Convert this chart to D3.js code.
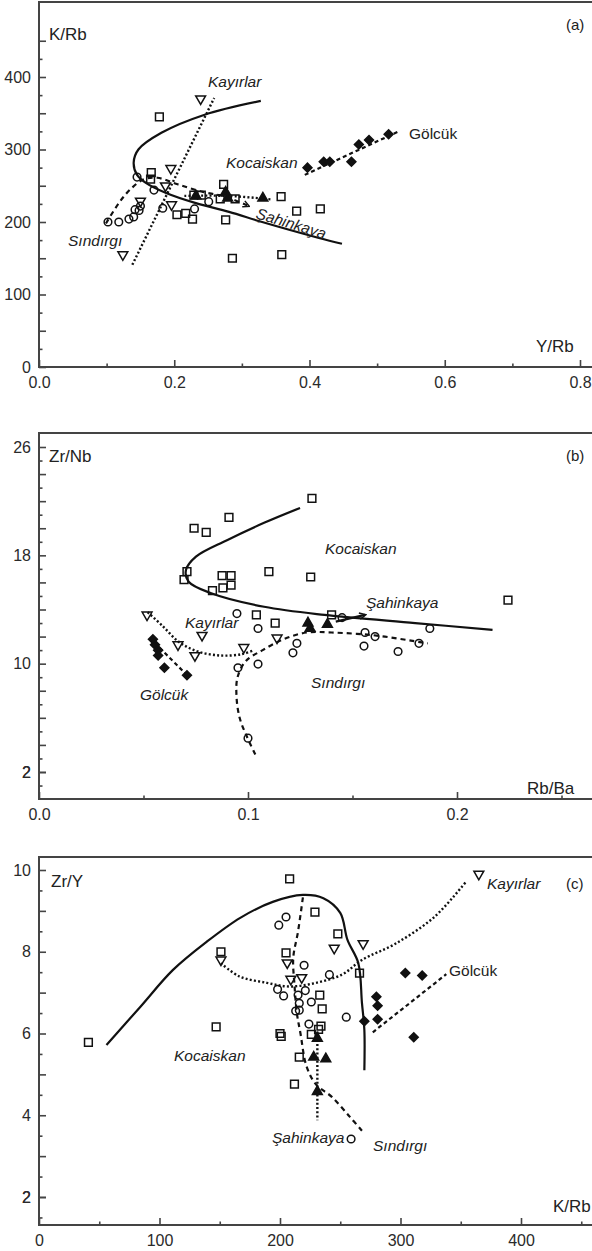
<!DOCTYPE html>
<html>
<head>
<meta charset="utf-8">
<script src="https://cdn.jsdelivr.net/npm/d3@7"></script>
<style>
  html, body { margin: 0; padding: 0; background: #fff; }
  svg { display: block; }
  text { font-family: "Liberation Sans", Arial, Helvetica, sans-serif; fill: #222; }
</style>
</head>
<body>
<svg id="fig" width="592" height="1251"></svg>
<script>
// ---------- (a) K/Rb versus Y/Rb ----------
const aKocaiskan = [[0.178,345],[0.166,268],[0.165,259],[0.273,252],[0.229,237],[0.240,237],[0.268,232],[0.290,232],[0.358,235],[0.381,215],[0.416,218],[0.204,210],[0.217,212],[0.227,204],[0.276,203],[0.286,150],[0.359,155]];
const aSindirgi  = [[0.102,200],[0.118,200],[0.133,204],[0.140,207],[0.142,217],[0.148,216],[0.150,222],[0.145,262],[0.170,244],[0.183,219],[0.230,218],[0.251,228]];
const aKayirlar  = [[0.239,370],[0.195,274],[0.187,250],[0.196,224],[0.124,155],[0.150,229]];
const aSahinkaya = [[0.232,236],[0.276,241],[0.279,233],[0.331,233]];
const aGolcuk    = [[0.397,275],[0.421,283],[0.430,283],[0.462,283],[0.473,307],[0.488,313],[0.517,321]];

const aKocaiskanTrend = [[0.328,367],[0.245,348],[0.181,323],[0.147,300],[0.140,282],[0.145,265],[0.158,254],[0.188,240],[0.232,226],[0.281,214],[0.330,200],[0.414,178],[0.448,170]];
const aKayirlarTrend  = [[0.138,141],[0.259,371]];
const aSindirgiTrend  = [[0.099,198],[0.118,226],[0.135,245],[0.155,259],[0.175,261],[0.205,252],[0.240,242],[0.275,235],[0.310,222]];
const aSahinkayaTrend = [[0.215,236],[0.280,236],[0.345,231]];
const aGolcukTrend    = [[0.393,265],[0.532,325]];

const aXLabelTicks = [0, 0.2, 0.4, 0.6, 0.8];
const aXMinorTicks = [0.1, 0.3, 0.5, 0.7];
const aYLabelTicks = [0, 100, 200, 300, 400];
const aYLongTicks  = [50, 100, 150, 200, 250, 300, 350, 400, 450];
const aYShortTicks = [25, 75, 125, 175, 225, 275, 325, 375, 425];

// ---------- (b) Zr/Nb versus Rb/Ba ----------
const bKocaiskan = [[0.1306,22.2],[0.0909,20.8],[0.0742,20.0],[0.080,19.7],[0.0708,16.8],[0.0694,16.2],[0.0876,16.5],[0.0919,16.5],[0.0919,15.8],[0.088,15.6],[0.083,15.4],[0.110,16.8],[0.130,16.4],[0.2244,14.7],[0.140,13.6],[0.104,13.6],[0.113,13.0]];
const bSindirgi  = [[0.0947,13.7],[0.1048,12.6],[0.1215,10.8],[0.1234,11.5],[0.1048,9.97],[0.0952,9.7],[0.100,4.5],[0.145,13.4],[0.156,12.3],[0.1608,12.0],[0.1555,11.3],[0.1718,10.9],[0.1818,11.5],[0.187,12.6]];
const bKayirlar  = [[0.0517,13.6],[0.078,12.1],[0.0665,11.4],[0.0746,10.6],[0.098,11.2],[0.1139,11.9]];
const bSahinkaya = [[0.1287,13.0],[0.1297,12.6],[0.138,12.9]];
const bGolcuk    = [[0.0545,11.8],[0.0555,11.4],[0.057,11.0],[0.057,10.6],[0.060,9.7],[0.0708,9.15]];

const bKocaiskanTrend = [[0.1249,21.5],[0.1077,20.4],[0.0897,19.1],[0.0751,17.9],[0.0703,16.9],[0.0716,16.05],[0.0824,15.2],[0.1077,14.2],[0.1366,13.6],[0.180,13.0],[0.217,12.5]];
const bKayirlarTrend  = [[0.052,13.8],[0.059,12.8],[0.067,11.6],[0.076,10.9],[0.087,10.6],[0.097,10.7],[0.103,11.0]];
const bSindirgiTrend  = [[0.1035,3.3],[0.0995,4.6],[0.096,6.0],[0.0945,7.6],[0.095,9.0],[0.099,10.2],[0.107,11.0],[0.117,11.8],[0.128,12.3],[0.140,12.3],[0.160,12.1],[0.178,11.7],[0.186,11.5]];
const bSahinkayaTrend = [[0.142,13.1],[0.156,13.6]];
const bGolcukTrend    = [[0.053,11.9],[0.0715,9.05]];

const bXLabelTicks = [0, 0.1, 0.2];
const bXMinorTicks = [0.05, 0.15, 0.25];
const bYLabelTicks = [2, 10, 18, 26];
const bYLongTicks  = [2, 4, 6, 8, 10, 12, 14, 16, 18, 20, 22, 24, 26];
const bYShortTicks = [1, 3, 5, 7, 9, 11, 13, 15, 17, 19, 21, 23, 25];

// ---------- (c) Zr/Y versus K/Rb ----------
const cKocaiskan = [[208,9.78],[229,8.97],[248,8.44],[151,8.0],[205,7.97],[266,7.48],[233,6.94],[235,6.6],[234,6.18],[147,6.16],[200,6.0],[201,5.93],[226,5.98],[232,6.1],[216,5.42],[212,4.76],[41,5.78]];
const cSindirgi  = [[199,8.65],[205,8.85],[220,7.67],[241,7.44],[198,7.08],[203,6.92],[215,6.94],[221,7.05],[226,6.77],[216,6.74],[216,6.57],[213,6.55],[224,6.23],[255,6.4],[259,3.42]];
const cKayirlar  = [[151,7.8],[206,7.73],[245,8.09],[269,8.2],[209,7.33],[218,7.37],[365,9.9]];
const cSahinkaya = [[231,5.88],[228,5.42],[238,5.38],[231,4.58]];
const cGolcuk    = [[304,7.48],[318,7.42],[280,6.9],[281,6.68],[281,6.35],[270,6.3],[311,5.91]];

const cKocaiskanTrend = [[56,5.72],[84,6.65],[111,7.55],[139,8.24],[167,8.83],[194,9.22],[219,9.39],[236,9.31],[250,8.95],[256,8.29],[265,7.72],[268,6.75],[270,6.09],[270,5.1]];
const cKayirlarTrend  = [[151,7.72],[166,7.4],[189,7.24],[208,7.15],[230,7.24],[252,7.45],[268,7.8],[296,8.2],[328,8.85],[354,9.7]];
const cSindirgiTrend  = [[219,9.33],[215,8.5],[211,7.85],[212,7.2],[214,6.5],[217,6.0],[222,5.2],[230,4.75],[243,4.45],[258,3.96],[268,3.62]];
const cSahinkayaTrend = [[231,6.05],[231,3.88]];
const cGolcukTrend    = [[277,6.03],[338,7.45]];

const cXLabelTicks = [0, 100, 200, 300, 400];
const cXMinorTicks = [50, 150, 250, 350, 450];
const cYLabelTicks = [2, 4, 6, 8, 10];
const cYLongTicks  = [2, 3, 4, 5, 6, 7, 8, 9, 10];
const cYShortTicks = [1.5, 2.5, 3.5, 4.5, 5.5, 6.5, 7.5, 8.5, 9.5];

// ---------- drawing ----------
const W = 592;
const svg = d3.select("#fig");
const INK = "#111";
const AXIS = "#444";

svg.append("defs").append("marker")
  .attr("id", "arrow").attr("viewBox", "0 0 10 10")
  .attr("refX", 8).attr("refY", 5)
  .attr("markerWidth", 8).attr("markerHeight", 8)
  .attr("markerUnits", "userSpaceOnUse")
  .attr("orient", "auto")
  .append("path").attr("d", "M1,1 L9,5 L1,9")
  .attr("fill", "none").attr("stroke", INK).attr("stroke-width", 1.8);

const symbols = {
  square:  { type: d3.symbolSquare,   size: 60, fill: "none", rot: 0 },
  circle:  { type: d3.symbolCircle,   size: 46, fill: "none", rot: 0 },
  triDown: { type: d3.symbolTriangle, size: 42, fill: "none", rot: 180 },
  triUp:   { type: d3.symbolTriangle, size: 42, fill: INK,    rot: 0 },
  diamond: { type: d3.symbolSquare,   size: 40, fill: INK,    rot: 45 }
};

const lineStyles = {
  solid:  { dash: null,  width: 2.2 },
  dotted: { dash: "2,2.2", width: 2.4 },
  dashed: { dash: "5,4", width: 2.2 },
  dash2:  { dash: "4,3", width: 2.2 }
};

function drawPanel(p) {
  const g = svg.append("g");
  const { x, y, left, top, bottom } = p;

  // axis frame: left axis, bottom axis, top border running off the right edge
  g.append("path")
    .attr("d", `M${W + 10},${top}H${left}V${bottom}H${W + 10}`)
    .attr("fill", "none").attr("stroke", AXIS).attr("stroke-width", 2);

  const styleAxis = sel => {
    sel.select(".domain").remove();
    sel.attr("font-size", null).attr("font-family", null).attr("color", AXIS);
    sel.selectAll("line").attr("stroke-width", 1.6);
    sel.selectAll("text").style("font-size", "16px").style("fill", "#2a2a2a");
  };

  // y ticks (pointing inwards)
  g.append("g").attr("transform", `translate(${left},0)`)
    .call(d3.axisLeft(y).tickValues(p.yLong.concat([p.yLabels[0]])).tickSize(-7).tickPadding(8)
      .tickFormat(d => p.yLabels.includes(d) ? d3.format("d")(d) : ""))
    .call(styleAxis);
  g.append("g").attr("transform", `translate(${left},0)`)
    .call(d3.axisLeft(y).tickValues(p.yShort).tickSize(-3.5).tickFormat(""))
    .call(styleAxis);

  // x ticks (pointing inwards)
  g.append("g").attr("transform", `translate(0,${bottom})`)
    .call(d3.axisBottom(x).tickValues(p.xLabels).tickSize(-7).tickPadding(10).tickFormat(p.xFmt))
    .call(styleAxis);
  g.append("g").attr("transform", `translate(0,${bottom})`)
    .call(d3.axisBottom(x).tickValues(p.xMinor).tickSize(-3.5).tickFormat(""))
    .call(styleAxis);

  // trend lines
  const line = d3.line().x(d => x(d[0])).y(d => y(d[1])).curve(d3.curveCatmullRom.alpha(0.5));
  p.trends.forEach(t => {
    const st = lineStyles[t.style];
    const path = g.append("path").attr("d", line(t.data))
      .attr("fill", "none").attr("stroke", INK)
      .attr("stroke-width", st.width).attr("stroke-linecap", "butt");
    if (st.dash) path.attr("stroke-dasharray", st.dash);
    if (t.arrow) path.attr("marker-end", "url(#arrow)");
  });

  // sample symbols
  p.series.forEach(s => {
    const sym = symbols[s.symbol];
    const gen = d3.symbol().type(sym.type).size(sym.size);
    g.append("g").selectAll("path").data(s.data).join("path")
      .attr("d", gen)
      .attr("transform", d => `translate(${x(d[0])},${y(d[1])}) rotate(${sym.rot})`)
      .attr("fill", sym.fill).attr("stroke", INK).attr("stroke-width", 1.5);
  });

  // labels
  p.labels.forEach(l => {
    const t = g.append("text").text(l.text)
      .attr("x", l.x).attr("y", l.y)
      .style("font-size", (l.size || 15.5) + "px")
      .style("font-style", l.italic ? "italic" : "normal");
    if (l.rotate) t.attr("transform", `rotate(${l.rotate},${l.x},${l.y})`);
  });
}

// panel (a)
drawPanel({
  left: 39, top: 2, bottom: 367,
  x: d3.scaleLinear().domain([0, 0.8]).range([39, 580]),
  y: d3.scaleLinear().domain([0, 400]).range([367, 77]),
  xLabels: aXLabelTicks, xMinor: aXMinorTicks, xFmt: d3.format(".1f"),
  yLabels: aYLabelTicks, yLong: aYLongTicks, yShort: aYShortTicks,
  trends: [
    { data: aKocaiskanTrend, style: "solid" },
    { data: aKayirlarTrend,  style: "dotted" },
    { data: aSindirgiTrend,  style: "dashed", arrow: true },
    { data: aSahinkayaTrend, style: "dotted" },
    { data: aGolcukTrend,    style: "dash2" }
  ],
  series: [
    { data: aKocaiskan, symbol: "square" },
    { data: aSindirgi,  symbol: "circle" },
    { data: aKayirlar,  symbol: "triDown" },
    { data: aSahinkaya, symbol: "triUp" },
    { data: aGolcuk,    symbol: "diamond" }
  ],
  labels: [
    { text: "K/Rb", x: 49, y: 40, size: 17 },
    { text: "(a)", x: 566, y: 30, size: 15 },
    { text: "Y/Rb", x: 536, y: 352, size: 17 },
    { text: "Kayırlar", x: 208, y: 87, italic: true },
    { text: "Kocaiskan", x: 226, y: 168, italic: true },
    { text: "Gölcük", x: 409, y: 139 },
    { text: "Sındırgı", x: 68, y: 246, italic: true },
    { text: "Şahinkaya", x: 255, y: 218, italic: true, rotate: 17 }
  ]
});

// panel (b)
drawPanel({
  left: 39, top: 433, bottom: 799,
  x: d3.scaleLinear().domain([0, 0.2]).range([39, 457]),
  y: d3.scaleLinear().domain([2, 26]).range([772, 447]),
  xLabels: bXLabelTicks, xMinor: bXMinorTicks, xFmt: d3.format(".1f"),
  yLabels: bYLabelTicks, yLong: bYLongTicks, yShort: bYShortTicks,
  trends: [
    { data: bKocaiskanTrend, style: "solid" },
    { data: bKayirlarTrend,  style: "dotted" },
    { data: bSindirgiTrend,  style: "dashed" },
    { data: bSahinkayaTrend, style: "solid", arrow: true },
    { data: bGolcukTrend,    style: "dash2" }
  ],
  series: [
    { data: bKocaiskan, symbol: "square" },
    { data: bSindirgi,  symbol: "circle" },
    { data: bKayirlar,  symbol: "triDown" },
    { data: bSahinkaya, symbol: "triUp" },
    { data: bGolcuk,    symbol: "diamond" }
  ],
  labels: [
    { text: "Zr/Nb", x: 49, y: 462, size: 17 },
    { text: "(b)", x: 566, y: 461, size: 15 },
    { text: "Rb/Ba", x: 527, y: 794, size: 17 },
    { text: "Kocaiskan", x: 325, y: 554, italic: true },
    { text: "Şahinkaya", x: 366, y: 608, italic: true },
    { text: "Kayırlar", x: 185, y: 628, italic: true },
    { text: "Gölcük", x: 140, y: 700, italic: true },
    { text: "Sındırgı", x: 311, y: 688, italic: true }
  ]
});

// panel (c)
drawPanel({
  left: 39, top: 857, bottom: 1225,
  x: d3.scaleLinear().domain([0, 400]).range([39, 521]),
  y: d3.scaleLinear().domain([2, 10]).range([1197, 870]),
  xLabels: cXLabelTicks, xMinor: cXMinorTicks, xFmt: d3.format("d"),
  yLabels: cYLabelTicks, yLong: cYLongTicks, yShort: cYShortTicks,
  trends: [
    { data: cKocaiskanTrend, style: "solid" },
    { data: cKayirlarTrend,  style: "dotted" },
    { data: cSindirgiTrend,  style: "dashed" },
    { data: cSahinkayaTrend, style: "dotted" },
    { data: cGolcukTrend,    style: "dash2" }
  ],
  series: [
    { data: cKocaiskan, symbol: "square" },
    { data: cSindirgi,  symbol: "circle" },
    { data: cKayirlar,  symbol: "triDown" },
    { data: cSahinkaya, symbol: "triUp" },
    { data: cGolcuk,    symbol: "diamond" }
  ],
  labels: [
    { text: "Zr/Y", x: 51, y: 887, size: 17 },
    { text: "(c)", x: 566, y: 889, size: 15 },
    { text: "K/Rb", x: 553, y: 1212, size: 17 },
    { text: "Kayırlar", x: 487, y: 889, italic: true },
    { text: "Gölcük", x: 449, y: 976 },
    { text: "Kocaiskan", x: 174, y: 1061, italic: true },
    { text: "Şahinkaya", x: 272, y: 1143, italic: true },
    { text: "Sındırgı", x: 373, y: 1151, italic: true }
  ]
});
</script>
</body>
</html>
